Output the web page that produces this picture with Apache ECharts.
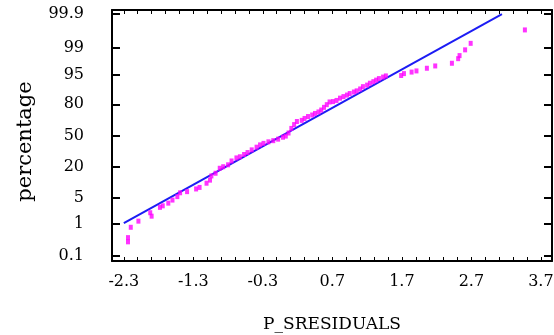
<!DOCTYPE html>
<html>
<head>
<meta charset="utf-8">
<script src="https://cdn.jsdelivr.net/npm/echarts@6/dist/echarts.min.js"></script>
<style>
  html, body { margin: 0; padding: 0; background: #fff; }
  #chart { width: 554px; height: 335px; }
</style>
</head>
<body>
<div id="chart"></div>
<script>
// normal probability plot: residuals (x) vs normal score (y, shown as percentage)
const residuals = [
  -2.24, -2.24, -2.20, -2.09, -1.92, -1.90, -1.78, -1.74, -1.66, -1.60,
  -1.53, -1.49, -1.39, -1.26, -1.21, -1.11, -1.06, -1.04, -0.98, -0.92,
  -0.87, -0.80, -0.75, -0.68, -0.63, -0.57, -0.52, -0.46, -0.39, -0.34,
  -0.29, -0.22, -0.15, -0.08, -0.01, 0.03, 0.07, 0.11, 0.15, 0.19,
  0.26, 0.30, 0.35, 0.41, 0.45, 0.50, 0.54, 0.58, 0.62, 0.66,
  0.71, 0.76, 0.81, 0.86, 0.91, 0.95, 1.01, 1.05, 1.10, 1.14,
  1.20, 1.24, 1.29, 1.33, 1.37, 1.43, 1.47, 1.69, 1.73, 1.84,
  1.91, 2.06, 2.18, 2.42, 2.51, 2.53, 2.61, 2.69, 3.47
];
const normalScores = [
  -2.77, -2.66, -2.39, -2.23, -2.01, -2.10, -1.87, -1.83, -1.76, -1.68,
  -1.59, -1.49, -1.46, -1.39, -1.35, -1.24, -1.16, -1.05, -0.98, -0.85,
  -0.81, -0.76, -0.66, -0.58, -0.55, -0.49, -0.44, -0.37, -0.30, -0.24,
  -0.20, -0.16, -0.13, -0.09, -0.04, -0.01, 0.07, 0.19, 0.29, 0.37,
  0.40, 0.45, 0.50, 0.54, 0.58, 0.62, 0.67, 0.74, 0.81, 0.88,
  0.89, 0.92, 0.98, 1.02, 1.06, 1.10, 1.14, 1.17, 1.22, 1.28,
  1.32, 1.37, 1.41, 1.45, 1.49, 1.53, 1.56, 1.57, 1.62, 1.66,
  1.69, 1.76, 1.82, 1.89, 2.01, 2.09, 2.24, 2.41, 2.76
];
// reference line end points
const fitLineX = [-2.3, 3.14];
const fitLineY = [-2.28, 3.17];

const xTickLabels = [-2.3, -1.3, -0.3, 0.7, 1.7, 2.7, 3.7];
const yTickLabels = ['0.1', '1', '5', '20', '50', '80', '95', '99', '99.9'];
const yTickPos = [-3.13, -2.29, -1.61, -0.82, 0, 0.82, 1.58, 2.30, 3.17];

const FONT = 'DejaVu Serif';
const X_MIN = -2.47, X_MAX = 3.86;
const Y_MIN = -3.27, Y_MAX = 3.28;

// small ticks every 0.2 between the labelled values
const xMinorTicks = [];
for (let i = 0; i <= (xTickLabels.length - 1) * 5; i++) {
  xMinorTicks.push(Math.round((xTickLabels[0] + i * 0.2) * 10) / 10);
}

const points = residuals.map((x, i) => [x, normalScores[i]]);
const fitLine = fitLineX.map((x, i) => [x, fitLineY[i]]);

const yLabelFor = (v) => {
  const idx = yTickPos.findIndex((p) => Math.abs(p - v) < 1e-6);
  return idx >= 0 ? yTickLabels[idx] : '';
};

const axisLine = { show: true, onZero: false, lineStyle: { color: '#000', width: 2 } };
const labelStyle = { fontFamily: FONT, fontSize: 16, color: '#000' };

const chart = echarts.init(document.getElementById('chart'), null, { renderer: 'canvas' });
chart.setOption({
  animation: false,
  backgroundColor: '#fff',
  grid: { left: 112, right: 2, top: 10, bottom: 74, outerBoundsMode: 'none' },
  xAxis: [
    {
      type: 'value',
      position: 'bottom',
      min: X_MIN,
      max: X_MAX,
      axisLine,
      axisTick: { show: true, inside: true, length: 4, customValues: xMinorTicks, lineStyle: { color: '#000', width: 1 } },
      axisLabel: {
        ...labelStyle,
        margin: 13,
        customValues: xTickLabels,
        formatter: (v) => String(v),
      },
      splitLine: { show: false },
      name: 'P_SRESIDUALS',
      nameLocation: 'middle',
      nameGap: 55,
      nameTextStyle: { fontFamily: FONT, fontSize: 17, color: '#000' },
    },
    {
      type: 'value',
      position: 'top',
      min: X_MIN,
      max: X_MAX,
      axisLine,
      axisTick: { show: true, inside: true, length: 4, customValues: xMinorTicks, lineStyle: { color: '#000', width: 1 } },
      axisLabel: { show: false },
      splitLine: { show: false },
    },
  ],
  yAxis: [
    {
      type: 'value',
      position: 'left',
      min: Y_MIN,
      max: Y_MAX,
      axisLine,
      axisTick: { show: true, inside: true, length: 8, customValues: yTickPos, lineStyle: { color: '#000', width: 2 } },
      axisLabel: {
        ...labelStyle,
        margin: 28,
        customValues: yTickPos,
        formatter: yLabelFor,
      },
      splitLine: { show: false },
      name: 'percentage',
      nameLocation: 'middle',
      nameRotate: 90,
      nameGap: 76,
      nameTextStyle: { fontFamily: FONT, fontSize: 21, color: '#000', padding: [0, 12, 0, 0] },
    },
    {
      type: 'value',
      position: 'right',
      min: Y_MIN,
      max: Y_MAX,
      axisLine,
      axisTick: { show: true, inside: true, length: 8, customValues: yTickPos, lineStyle: { color: '#000', width: 2 } },
      axisLabel: { show: false },
      splitLine: { show: false },
    },
  ],
  series: [
    {
      type: 'line',
      data: fitLine,
      showSymbol: false,
      silent: true,
      lineStyle: { color: '#1c1cf4', width: 2 },
      z: 2,
    },
    {
      type: 'scatter',
      data: points,
      symbol: 'rect',
      symbolSize: [4, 5],
      itemStyle: { color: '#ff00ff' },
      z: 3,
    },
  ],
});
</script>
</body>
</html>
